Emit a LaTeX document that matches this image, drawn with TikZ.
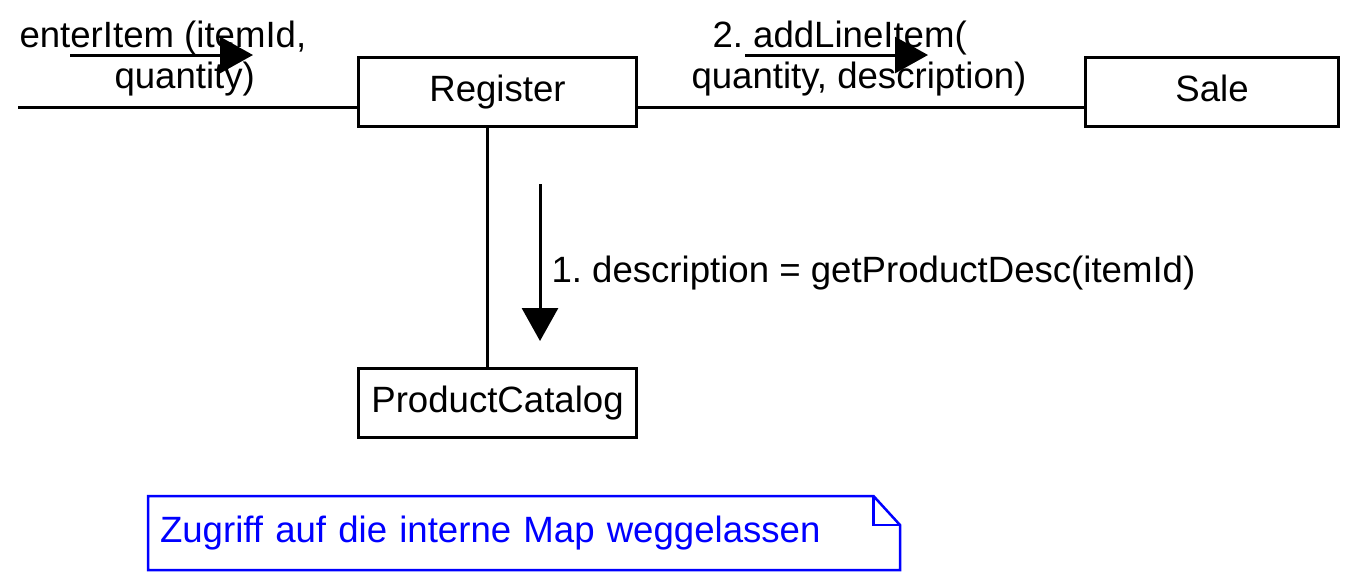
\documentclass[tikz,border=0pt]{standalone}
\usepackage{fontspec}
\setmainfont{Liberation Sans}
\usetikzlibrary{arrows.meta}
\frenchspacing
\begin{document}
\begin{tikzpicture}[x=0.5pt,y=-0.5pt, line width=1.5pt,
  font=\fontsize{18.3}{20.5}\selectfont,
  box/.style={draw, minimum width=139pt, minimum height=34.5pt, inner sep=0pt, text height=13pt, text depth=4pt},
  lbl/.style={inner sep=0pt, align=left, anchor=north west},
  msg/.style={-{Triangle[length=16.5pt,width=18pt]}},
  notebox/.style={draw=none, text=blue, minimum width=374.5pt, minimum height=35.5pt, inner xsep=5.25pt, text width=364pt, align=left}]
\useasboundingbox (0,0) rectangle (1349,575);
% classes
\node[box] (register) at (497.5,92) {Register};
\node[box, minimum width=126.5pt] (sale) at (1212,92) {Sale};
\node[box] (catalog) at (497.5,403) {ProductCatalog};
% links
\coordinate (in) at (18,107);
\coordinate (vx) at (487,0);
\draw (in) -- (register.west |- in);
\draw (register.east |- in) -- (sale.west |- in);
\draw (register.south -| vx) -- (catalog.north -| vx);
% messages
\coordinate (m0s) at (70,55);
\coordinate (m0e) at (253,55);
\draw[msg] (m0s) -- (m0e);
\node[lbl] (m0l) at (18,19) {enterItem (itemId,\\\hspace*{47.5pt}quantity)};
\coordinate (m2s) at (745,55);
\coordinate (m2e) at (928,55);
\draw[msg] (m2s) -- (m2e);
\node[lbl] (m2l) at (690,19) {\hspace*{10.5pt}2. addLineItem(\\quantity, description)};
\coordinate (m1s) at (540,184);
\coordinate (m1e) at (540,341);
\draw[msg] (m1s) -- (m1e);
\node[inner sep=0pt, anchor=base west] (m1l) at (550,282) {1. description = getProductDesc(itemId)};
% note
\node[notebox] (note) at (524,533) {Zugriff auf die interne Map weggelassen};
\draw[blue, line width=1.25pt] (note.south west) -- (note.north west) -- ([xshift=-13.25pt]note.north east) -- ([yshift=-14.5pt]note.north east) -- (note.south east) -- cycle;
\draw[blue, line width=1.25pt] ([xshift=-13.25pt]note.north east) -- ([xshift=-13.25pt,yshift=-14.5pt]note.north east) -- ([yshift=-14.5pt]note.north east);
\end{tikzpicture}
\end{document}
